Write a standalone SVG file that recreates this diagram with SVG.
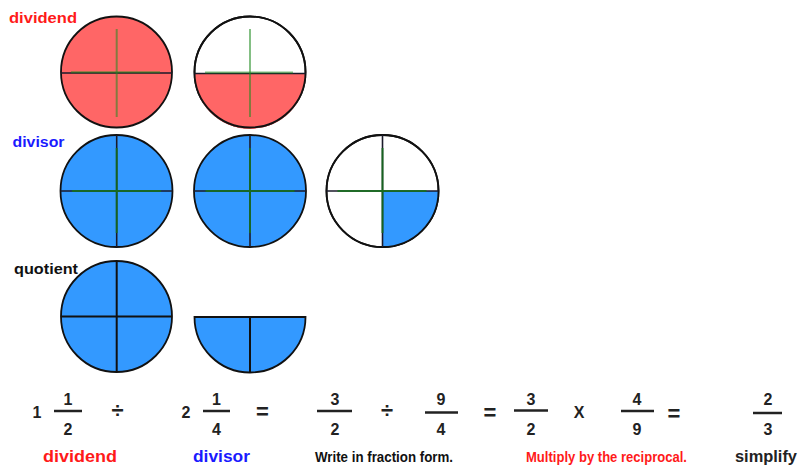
<svg xmlns="http://www.w3.org/2000/svg" width="801" height="471" viewBox="0 0 801 471">
<style>
.c{stroke:#111;stroke-width:1.8}
.red{fill:#ff6666}
.blue{fill:#3399ff}
.wh{fill:#ffffff}
.dk{stroke:#1a1a2a;stroke-width:1.6;fill:none}
.gl{stroke:#1f8a1f;stroke-width:2;opacity:0.55;fill:none}
.gd{stroke:#17701f;stroke-width:2;opacity:0.85;fill:none}
.bk{stroke:#111;stroke-width:2;fill:none}
.lbl{font-family:"Liberation Sans",Arial,sans-serif;font-weight:bold;font-size:14px}
.num{font-family:"Liberation Sans",Arial,sans-serif;font-weight:bold;font-size:16px;text-anchor:middle;fill:#222}
.op{font-family:"Liberation Sans",Arial,sans-serif;font-weight:bold;font-size:22px;text-anchor:middle;fill:#222}
.bar{stroke:#222;stroke-width:2.5}
.cap{font-family:"Liberation Sans",Arial,sans-serif;font-weight:bold;font-size:17px}
.nar{font-family:"Liberation Sans Narrow","Liberation Sans",Arial,sans-serif;font-weight:bold;font-size:14px}
</style>
<rect width="801" height="471" fill="#ffffff"/>

<g id="dividend-label"><text class="lbl" x="9" y="23" fill="#ff1a1a" textLength="68" lengthAdjust="spacingAndGlyphs">dividend</text></g>

<g id="dividend-whole">
<circle class="c red" cx="116.5" cy="72" r="55.5"/>
<line class="dk" x1="61" y1="73" x2="172" y2="73"/>
<line class="gl" x1="71" y1="72.3" x2="160" y2="72.3"/>
<line class="gl" x1="116.7" y1="29" x2="116.7" y2="117"/>
</g>

<g id="dividend-half">
<circle class="c wh" cx="250" cy="72" r="55.5"/>
<path class="red" d="M194.5,73.5 A55.5,55.5 0 0 0 305.5,73.5 Z"/>
<circle cx="250" cy="72" r="55.5" fill="none" stroke="#111" stroke-width="1.8"/>
<line class="dk" x1="194.5" y1="73.5" x2="305.5" y2="73.5"/>
<line class="gl" x1="205" y1="72.5" x2="293" y2="72.5"/>
<line class="gl" x1="250" y1="29" x2="250" y2="117"/>
</g>

<g id="divisor-label"><text class="lbl" x="12.5" y="147" fill="#1a1aff" textLength="52" lengthAdjust="spacingAndGlyphs">divisor</text></g>

<g id="divisor-1">
<circle class="c blue" cx="116.5" cy="191" r="56"/>
<line class="dk" x1="60.5" y1="191" x2="172.5" y2="191"/>
<line class="dk" x1="116.7" y1="135" x2="116.7" y2="247"/>
<line class="gd" x1="72" y1="191" x2="161" y2="191"/>
<line class="gd" x1="116.7" y1="148" x2="116.7" y2="233"/>
</g>

<g id="divisor-2">
<circle class="c blue" cx="250" cy="191" r="56"/>
<line class="dk" x1="194" y1="191" x2="306" y2="191"/>
<line class="dk" x1="250" y1="135" x2="250" y2="247"/>
<line class="gd" x1="205.5" y1="191" x2="294.5" y2="191"/>
<line class="gd" x1="250" y1="148" x2="250" y2="233"/>
</g>

<g id="divisor-3">
<circle class="c wh" cx="382.5" cy="191" r="56"/>
<path class="blue" d="M382.5,191 L438.5,191 A56,56 0 0 1 382.5,247 Z"/>
<circle cx="382.5" cy="191" r="56" fill="none" stroke="#111" stroke-width="1.8"/>
<line class="dk" x1="326.5" y1="191" x2="438.5" y2="191"/>
<line class="dk" x1="382.5" y1="135" x2="382.5" y2="247"/>
<line class="gd" x1="337.5" y1="191" x2="426.5" y2="191"/>
<line class="gd" x1="382.5" y1="148" x2="382.5" y2="233"/>
</g>

<g id="quotient-label"><text class="lbl" x="14" y="274" fill="#111" textLength="64" lengthAdjust="spacingAndGlyphs">quotient</text></g>

<g id="quotient-whole">
<circle class="c blue" cx="116.5" cy="316.5" r="55.5"/>
<line class="bk" x1="61" y1="316.5" x2="172" y2="316.5"/>
<line class="bk" x1="116.7" y1="261" x2="116.7" y2="372"/>
</g>

<g id="quotient-half">
<path class="c blue" d="M194.5,317 L305.5,317 A55.5,55.5 0 0 1 194.5,317 Z"/>
<line class="bk" x1="250" y1="317" x2="250" y2="372.5"/>
</g>

<g id="equation">
<text class="num" x="37" y="418">1</text>
<text class="num" x="68" y="405">1</text>
<line class="bar" x1="54" y1="411" x2="82" y2="411"/>
<text class="num" x="68" y="435">2</text>
<text class="op" x="117.5" y="418">÷</text>

<text class="num" x="186" y="418">2</text>
<text class="num" x="216.5" y="405">1</text>
<line class="bar" x1="203" y1="411" x2="230" y2="411"/>
<text class="num" x="216.5" y="435">4</text>
<text class="op" x="262.5" y="419" font-size="20">=</text>

<text class="num" x="335" y="405">3</text>
<line class="bar" x1="317" y1="411" x2="352" y2="411"/>
<text class="num" x="335" y="435">2</text>
<text class="op" x="387" y="418">÷</text>

<text class="num" x="441" y="405">9</text>
<line class="bar" x1="425" y1="412.5" x2="458" y2="412.5"/>
<text class="num" x="441" y="435">4</text>
<text class="op" x="490" y="420" font-size="20">=</text>

<text class="num" x="531" y="405" fill="#ff1a1a">3</text>
<line class="bar" x1="514" y1="410.5" x2="548" y2="410.5"/>
<text class="num" x="531" y="435" fill="#ff1a1a">2</text>
<text class="num" x="579" y="418" font-size="17">X</text>

<text class="num" x="637" y="405" fill="#ff1a1a">4</text>
<line class="bar" x1="621" y1="411" x2="654" y2="411"/>
<text class="num" x="637" y="435" fill="#ff1a1a">9</text>
<text class="op" x="674" y="421" font-size="20">=</text>

<text class="num" x="768" y="405">2</text>
<line class="bar" x1="753" y1="413" x2="782" y2="413"/>
<text class="num" x="768" y="435">3</text>
</g>

<g id="captions">
<text class="cap" x="43" y="462" fill="#ff1a1a" textLength="74" lengthAdjust="spacingAndGlyphs">dividend</text>
<text class="cap" x="193" y="462" fill="#1a1aff" textLength="57" lengthAdjust="spacingAndGlyphs">divisor</text>
<text class="nar" x="315" y="462" fill="#111" textLength="138" lengthAdjust="spacingAndGlyphs">Write in fraction form.</text>
<text class="nar" x="526" y="462" fill="#ff1a1a" textLength="161" lengthAdjust="spacingAndGlyphs">Multiply by the reciprocal.</text>
<text class="cap" x="735" y="462" fill="#222" font-size="16" textLength="62" lengthAdjust="spacingAndGlyphs">simplify</text>
</g>
</svg>
